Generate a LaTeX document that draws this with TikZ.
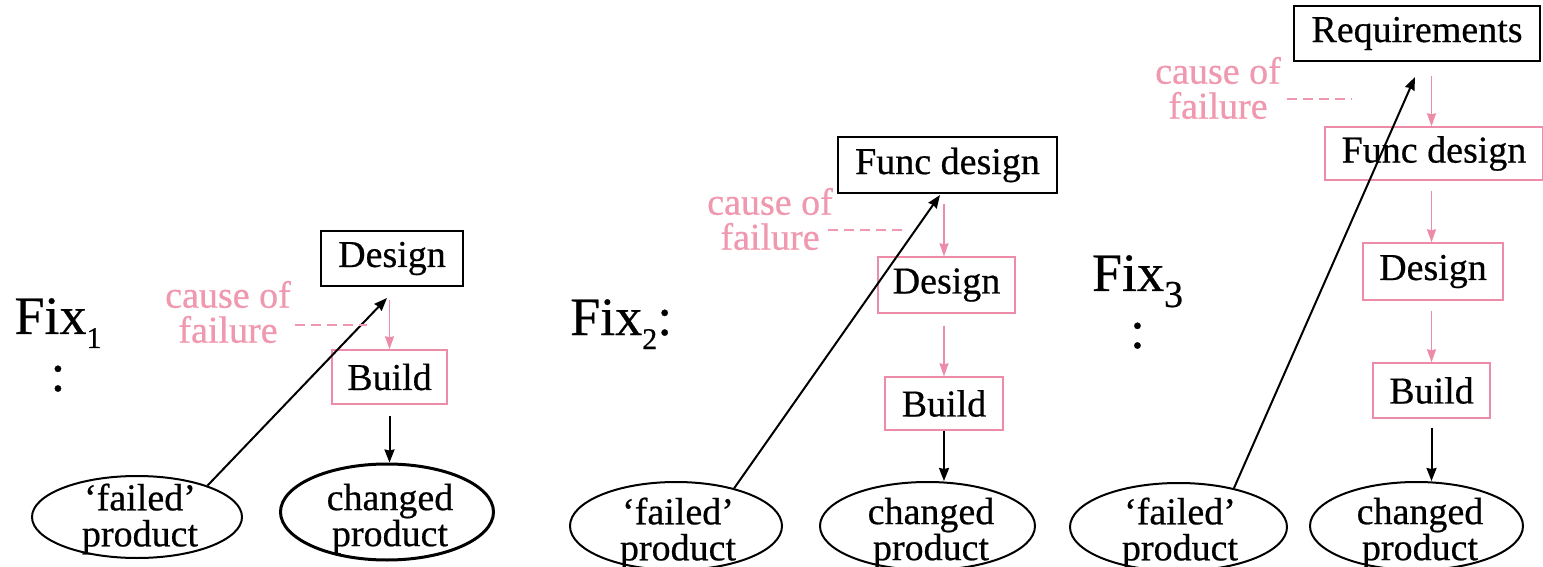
\documentclass[tikz,border=0pt]{standalone}
\usepackage{fontspec}
\setmainfont{Liberation Serif}[FakeBold=0.5]
\usetikzlibrary{arrows.meta,shapes.geometric}

\definecolor{rose}{RGB}{236,140,168}
\definecolor{rosetext}{RGB}{240,152,175}

\tikzset{
  stagebox/.style={draw=black, line width=2.4pt, inner sep=0pt,
    font=\fontsize{38}{38}\selectfont},
  flowbox/.style={draw=rose, line width=1.4pt, inner sep=0pt,
    font=\fontsize{38}{38}\selectfont},
  product/.style={ellipse, draw=black, line width=2pt, inner sep=0pt},
  prodlabel/.style={align=center, inner sep=0pt,
    font=\fontsize{38}{36}\selectfont},
  causelabel/.style={align=center, inner sep=0pt, text=rosetext,
    font=\fontsize{38}{35}\selectfont},
  fixlabel/.style={inner sep=0pt, font=\fontsize{54}{57}\selectfont},
  flowarrow/.style={draw=rose, line width=1.5pt,
    -{Stealth[length=13pt,width=9pt,inset=1pt]}},
  blackarrow/.style={draw=black, line width=2pt,
    -{Stealth[length=13pt,width=10pt,inset=1pt]}},
  causedash/.style={draw=rosetext, line width=1.4pt, dash pattern=on 10pt off 6pt},
}

\begin{document}
\begin{tikzpicture}[x=1pt, y=-1pt]
  \fill[white] (0,0) rectangle (1543,567);
  \useasboundingbox (0,0) rectangle (1543,567);

  % ---------- Fix 1 ----------
  \node[fixlabel, align=center, anchor=north] (fx1) at (58,298)
    {Fix\raisebox{-14pt}{\fontsize{30}{30}\selectfont 1}\\:};
  \node[stagebox, minimum width=142pt, minimum height=55pt] (d1) at (392,258.5) {Design};
  \node[flowbox, minimum width=115pt, minimum height=54pt] (b1) at (389.5,377) {Build};
  \node[product, minimum width=210pt, minimum height=82pt] (f1) at (137,517) {};
  \node[product, line width=3pt, minimum width=213pt, minimum height=96pt] (c1) at (387,512) {};
  \node[prodlabel] (f1t) at (140,519) {‘failed’\\product};
  \node[prodlabel] (c1t) at (390,519) {changed\\product};
  \node[causelabel] (k1) at (228,312) {cause of\\failure};
  \coordinate (t1) at (387,298);
  \coordinate (k1a) at (295,325);
  \coordinate (k1b) at (367,325);

  \draw[flowarrow, shorten <=13pt] (d1.south -| b1.north) -- (b1.north);
  \draw[blackarrow, shorten <=11pt] (b1.south) -- (b1.south |- c1.north);
  \draw[blackarrow] (f1.24) -- (t1);
  \draw[causedash] (k1a) -- (k1b);

  % ---------- Fix 2 ----------
  \node[fixlabel, anchor=base west] (fx2) at (570,335)
    {Fix\raisebox{-14pt}{\fontsize{30}{30}\selectfont 2}:};
  \node[stagebox, minimum width=219pt, minimum height=56pt] (fd2) at (947.5,165) {Func design};
  \node[flowbox, minimum width=137pt, minimum height=56pt] (d2) at (946.5,285) {Design};
  \node[flowbox, minimum width=118pt, minimum height=53pt] (b2) at (944,403.5) {Build};
  \node[product, minimum width=212pt, minimum height=88pt] (f2) at (676,526) {};
  \node[product, minimum width=215pt, minimum height=88pt] (c2) at (927.5,526) {};
  \node[prodlabel] (f2t) at (678,533) {‘failed’\\product};
  \node[prodlabel] (c2t) at (931,533) {changed\\product};
  \node[causelabel] (k2) at (770,219) {cause of\\failure};
  \coordinate (t2) at (940,195);
  \coordinate (k2a) at (828,230);
  \coordinate (k2b) at (903,230);

  \draw[flowarrow, shorten <=10pt] (fd2.south -| b2.north) -- (b2.north |- d2.north);
  \draw[flowarrow, shorten <=12pt] (d2.south -| b2.north) -- (b2.north);
  \draw[blackarrow] (b2.south) -- (b2.south |- c2.north);
  \draw[blackarrow] (f2.33) -- (t2);
  \draw[causedash] (k2a) -- (k2b);

  % ---------- Fix 3 ----------
  \node[fixlabel, align=center, anchor=north] (fx3) at (1137.5,255)
    {Fix\raisebox{-16pt}{\fontsize{38}{38}\selectfont 3}\\:};
  \node[stagebox, minimum width=246pt, minimum height=55pt] (r3) at (1417,33.5) {Requirements};
  \node[flowbox, minimum width=218pt, minimum height=53pt] (fd3) at (1434,153.5) {Func design};
  \node[flowbox, minimum width=140pt, minimum height=57pt] (d3) at (1433,271.5) {Design};
  \node[flowbox, minimum width=117pt, minimum height=55pt] (b3) at (1431.5,390.5) {Build};
  \node[product, minimum width=217pt, minimum height=88pt] (f3) at (1178.5,527) {};
  \node[product, minimum width=213pt, minimum height=88pt] (c3) at (1416.5,526) {};
  \node[prodlabel] (f3t) at (1180,533) {‘failed’\\product};
  \node[prodlabel] (c3t) at (1420,533) {changed\\product};
  \node[causelabel] (k3) at (1218,88) {cause of\\failure};
  \coordinate (t3) at (1415,77);
  \coordinate (k3a) at (1287,99);
  \coordinate (k3b) at (1352,99);

  \draw[flowarrow, shorten <=14pt] (r3.south -| b3.north) -- (b3.north |- fd3.north);
  \draw[flowarrow, shorten <=10pt] (fd3.south -| b3.north) -- (b3.north |- d3.north);
  \draw[flowarrow, shorten <=10pt] (d3.south -| b3.north) -- (b3.north);
  \draw[blackarrow, shorten <=9pt] (b3.south) -- (b3.south |- c3.north);
  \draw[blackarrow] (f3.35) -- (t3);
  \draw[causedash] (k3a) -- (k3b);
\end{tikzpicture}
\end{document}
